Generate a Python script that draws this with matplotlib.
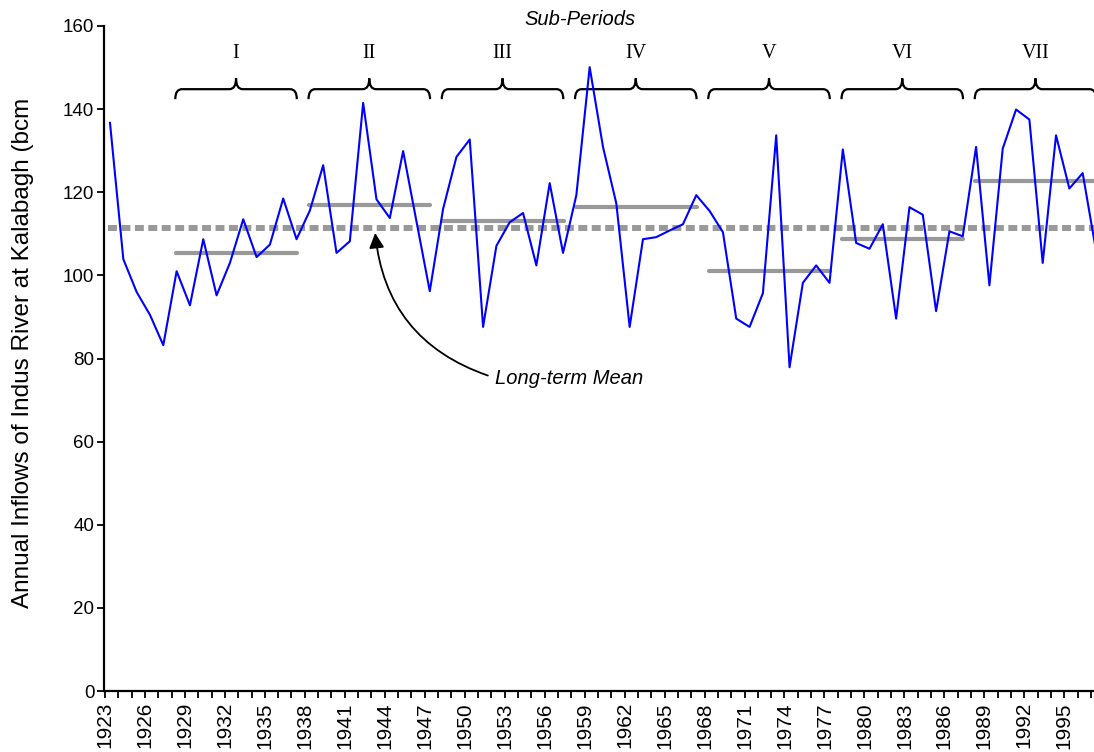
import matplotlib
matplotlib.use("Agg")
import matplotlib.pyplot as plt
from matplotlib.path import Path
from matplotlib.patches import PathPatch

# annual inflows (bcm)
years = list(range(1923, 1998))
inflows = [136.7, 103.9, 96.0, 90.5, 83.2, 101.0, 92.8, 108.7, 95.2, 103.0,   # 1923-32
           113.5, 104.4, 107.4, 118.5, 108.7, 115.6, 126.5, 105.4, 108.2, 141.5,  # 1933-42
           118.3, 113.8, 129.9, 113.0, 96.2, 116.0, 128.5, 132.7, 87.6, 107.1,    # 1943-52
           112.8, 115.0, 102.4, 122.2, 105.4, 119.3, 150.1, 130.9, 117.3, 87.6,   # 1953-62
           108.7, 109.2, 110.8, 112.3, 119.3, 115.5, 110.4, 89.6, 87.6, 95.7,     # 1963-72
           133.7, 77.9, 98.2, 102.4, 98.2, 130.3, 107.8, 106.4, 112.3, 89.6,      # 1973-82
           116.4, 114.6, 91.4, 110.6, 109.4, 130.9, 97.6, 130.5, 139.9, 137.5,    # 1983-92
           103.0, 133.7, 120.9, 124.6, 106.0]                                     # 1993-97
long_term_mean = 111.4

period_labels = ["I", "II", "III", "IV", "V", "VI", "VII"]
period_start = [1928, 1938, 1948, 1958, 1968, 1978, 1988]
period_end = [1937, 1947, 1957, 1967, 1977, 1987, 1997]
period_means = [105.4, 116.9, 113.1, 116.5, 101.0, 108.7, 122.7]

tick_years = years[::3]

plt.rcParams["font.family"] = ["Liberation Sans", "DejaVu Sans"]

GRAY = "#999999"


def draw_brace(ax, x0, x1, yb=142.4, yh=144.8, yt=147.4, r=0.5):
    xm = (x0 + x1) / 2
    verts = [(x0, yb), (x0, yh), (x0 + r, yh),
             (xm - r, yh), (xm, yh), (xm, yt),
             (xm, yh), (xm + r, yh),
             (x1 - r, yh), (x1, yh), (x1, yb)]
    codes = [Path.MOVETO, Path.CURVE3, Path.CURVE3,
             Path.LINETO, Path.CURVE3, Path.CURVE3,
             Path.CURVE3, Path.CURVE3,
             Path.LINETO, Path.CURVE3, Path.CURVE3]
    ax.add_patch(PathPatch(Path(verts, codes), fill=False, lw=1.6,
                           color="black", clip_on=False))


fig = plt.figure(figsize=(10.94, 7.52), dpi=100)
ax = fig.add_axes([104 / 1094, 1 - 691 / 752, 1 - 104 / 1094, (691 - 26) / 752])

# long-term mean
ax.plot([years[0] - 0.15, years[-1]], [long_term_mean, long_term_mean],
        color=GRAY, lw=4.3, linestyle=(0, (1.5, 0.75)), dash_capstyle="butt",
        zorder=2)

# sub-period means
for s, e, m in zip(period_start, period_end, period_means):
    ax.plot([s - 0.05, e + 0.05], [m, m], color=GRAY, lw=3,
            solid_capstyle="round", zorder=2)

ax.plot(years, inflows, color="#0000FF", lw=1.5, zorder=3)

# braces and sub-period labels
for lab, s, e in zip(period_labels, period_start, period_end):
    draw_brace(ax, s - 0.1, e + 0.02)
    ax.text((s + e) / 2 - 0.05, 153.3, lab, ha="center", va="center",
            fontsize=14.5, family="Liberation Serif")

ax.text(1958.3, 161.6, "Sub-Periods", ha="center", va="center",
        fontsize=14.5, style="italic", clip_on=False)

ax.annotate("", xy=(1942.9, 110.2), xytext=(1951.36, 75.9),
            arrowprops=dict(arrowstyle="-|>,head_length=0.6,head_width=0.3",
                            mutation_scale=15, color="black", lw=1.3,
                            shrinkA=0, shrinkB=0,
                            connectionstyle="arc3,rad=-0.32"))
ax.text(1951.9, 75.2, "Long-term Mean", ha="left", va="center",
        fontsize=14.5, style="italic")

ax.set_xlim(1922.55, 1996.85)
ax.set_ylim(0, 160)
ax.set_yticks(range(0, 161, 20))
ax.set_xticks([y - 0.38 for y in years], minor=True)
ax.set_xticks([y - 0.38 for y in tick_years])
ax.set_xticklabels([str(y) for y in tick_years], rotation=90, va="top")
ax.tick_params(axis="x", which="both", length=5, width=1.3, direction="out")
ax.tick_params(axis="x", which="major", labelsize=15, pad=3)
ax.tick_params(axis="y", length=5, width=1.3, direction="out", labelsize=13.5, pad=2)

for side in ["top", "right"]:
    ax.spines[side].set_visible(False)
for side in ["left", "bottom"]:
    ax.spines[side].set_linewidth(1.6)

fig.text(23 / 1094, 1 - 608 / 752, "Annual Inflows of Indus River at Kalabagh (bcm",
         rotation=90, ha="center", va="bottom", fontsize=17.5)

fig.savefig("out.png", dpi=100)
